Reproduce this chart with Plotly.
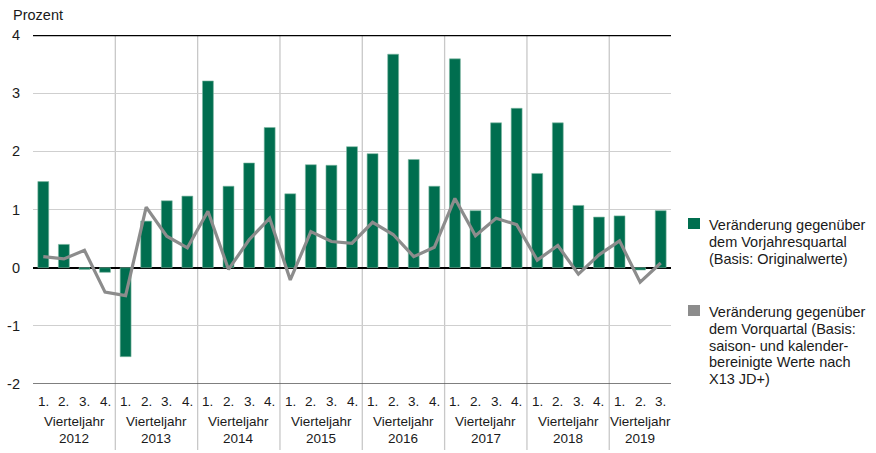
import plotly.graph_objects as go

years = ["2012", "2013", "2014", "2015", "2016", "2017", "2018", "2019"]
quarters_per_year = [4, 4, 4, 4, 4, 4, 4, 3]

vorjahr = [1.48, 0.40, -0.03, -0.08,
           -1.53, 0.80, 1.15, 1.23,
           3.21, 1.40, 1.80, 2.41,
           1.27, 1.77, 1.76, 2.08,
           1.96, 3.67, 1.86, 1.40,
           3.59, 0.98, 2.49, 2.74,
           1.62, 2.49, 1.07, 0.87,
           0.89, -0.04, 0.98]

vorquartal = [0.19, 0.15, 0.30, -0.42,
              -0.48, 1.04, 0.54, 0.34,
              0.97, -0.03, 0.48, 0.85,
              -0.21, 0.62, 0.45, 0.42,
              0.78, 0.57, 0.19, 0.35,
              1.19, 0.55, 0.85, 0.74,
              0.13, 0.38, -0.11, 0.22,
              0.46, -0.25, 0.08]

legend_1 = ["Veränderung gegenüber", "dem Vorjahresquartal", "(Basis: Originalwerte)"]
legend_2 = ["Veränderung gegenüber", "dem Vorquartal (Basis:", "saison- und kalender-",
            "bereinigte Werte nach", "X13 JD+)"]

GREEN = "#006e4f"
GRAY = "#8c8c8c"
TXT = "#1a1a1a"
FONT = "Liberation Sans, Arial, sans-serif"

W, H = 876, 453
ML, MR, MT, MB = 33, 205, 35, 69
PW = W - ML - MR
PH = H - MT - MB

def px_to_paper_x(px):
    return (px - ML) / PW

def px_to_paper_y(py):
    return (H - MB - py) / PH

x = list(range(len(vorjahr)))

fig = go.Figure()
fig.add_trace(go.Bar(x=x, y=vorjahr, marker_color=GREEN, width=0.53,
                     marker_line=dict(width=0.6, color="#7fb8a3"), showlegend=False))
fig.add_trace(go.Scatter(x=x, y=vorquartal, mode="lines",
                         line=dict(color=GRAY, width=3.2), showlegend=False))

shapes = []
annotations = []

start = 0
for yi, (yr, nq) in enumerate(zip(years, quarters_per_year)):
    if yi > 0:
        xs = start - 0.5
        shapes.append(dict(type="line", xref="x", yref="paper", x0=xs, x1=xs,
                           y0=px_to_paper_y(450), y1=1, layer="below",
                           line=dict(color="#c8c8c8", width=1.3)))
    for q in range(nq):
        annotations.append(dict(x=start + q, y=px_to_paper_y(402), xref="x", yref="paper",
                                text=f"{q+1}.", showarrow=False, xanchor="center",
                                yanchor="middle", font=dict(size=13.5, color=TXT, family=FONT)))
    xc = start + (nq - 1) / 2
    annotations.append(dict(x=xc, y=px_to_paper_y(421), xref="x", yref="paper",
                            text="Vierteljahr", showarrow=False, xanchor="center",
                            yanchor="middle", font=dict(size=13.5, color=TXT, family=FONT)))
    annotations.append(dict(x=xc, y=px_to_paper_y(439), xref="x", yref="paper",
                            text=yr, showarrow=False, xanchor="center",
                            yanchor="middle", font=dict(size=13.5, color=TXT, family=FONT)))
    start += nq

shapes.append(dict(type="line", xref="paper", yref="y", x0=0, x1=1, y0=4, y1=4,
                   line=dict(color="black", width=2.5)))
shapes.append(dict(type="line", xref="paper", yref="y", x0=0, x1=1, y0=-2, y1=-2,
                   line=dict(color="#555555", width=1.5)))

annotations.append(dict(x=px_to_paper_x(11), y=px_to_paper_y(15), xref="paper", yref="paper",
                        text="Prozent", showarrow=False, xanchor="left", yanchor="middle",
                        font=dict(size=14.5, color=TXT, family=FONT)))

def add_legend_block(lines, top_center, color):
    shapes.append(dict(type="rect", xref="paper", yref="paper",
                       x0=px_to_paper_x(688), x1=px_to_paper_x(700),
                       y0=px_to_paper_y(top_center - 6), y1=px_to_paper_y(top_center + 5),
                       fillcolor=color, line=dict(width=0)))
    for i, ln in enumerate(lines):
        annotations.append(dict(x=px_to_paper_x(707), y=px_to_paper_y(top_center + 1 + i * 16.8),
                                xref="paper", yref="paper", text=ln, showarrow=False,
                                xanchor="left", yanchor="middle",
                                font=dict(size=14.5, color=TXT, family=FONT)))

add_legend_block(legend_1, 224, GREEN)
add_legend_block(legend_2, 311, GRAY)

fig.update_layout(
    width=W, height=H,
    margin=dict(l=ML, r=MR, t=MT, b=MB, autoexpand=False),
    paper_bgcolor="white", plot_bgcolor="white",
    showlegend=False,
    bargap=0.47,
    shapes=shapes, annotations=annotations,
    font=dict(family=FONT, color=TXT),
    xaxis=dict(range=[-0.5, len(vorjahr) - 0.5], showgrid=False, zeroline=False,
               showticklabels=False, ticks="", showline=False, fixedrange=True,
               automargin=False),
    yaxis=dict(range=[-2, 4], tickvals=[-2, -1, 0, 1, 2, 3, 4],
               ticktext=["-2", "-1", "0", "1", "2", "3", "4"],
               showgrid=True, gridcolor="#cfcfcf", gridwidth=1.3,
               zeroline=True, zerolinecolor="black", zerolinewidth=2.2,
               showline=False, ticks="", ticklabelstandoff=12, automargin=False,
               tickfont=dict(size=14.5, color=TXT, family=FONT), fixedrange=True),
)

fig.write_html("out.html", config={"displayModeBar": False},
               post_script="document.body.style.margin='0';document.body.style.overflow='hidden';")
